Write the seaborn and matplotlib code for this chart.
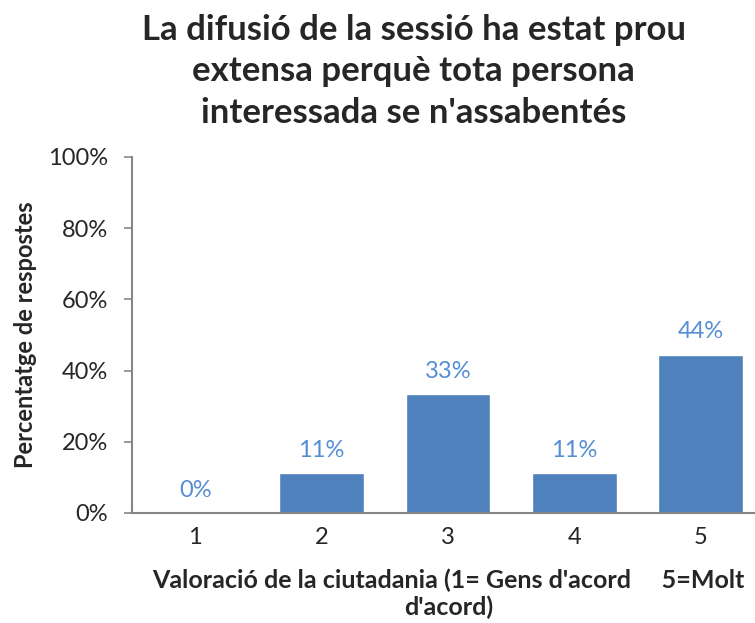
import matplotlib
matplotlib.use("Agg")
import matplotlib.pyplot as plt
import seaborn as sns
import pandas as pd

categories = ["1", "2", "3", "4", "5"]
values = [0.0, 11.1, 33.3, 11.1, 44.4]
labels = ["0%", "11%", "33%", "11%", "44%"]
yticks = [0, 20, 40, 60, 80, 100]

df = pd.DataFrame({"cat": categories, "val": values})

sns.set_style("white")
plt.rcParams["font.family"] = ["Lato", "DejaVu Sans"]

fig = plt.figure(figsize=(7.55, 6.23), dpi=100)
ax = fig.add_axes([0.1748, 0.1766, 1.0 - 0.1748, 0.5714])

sns.barplot(data=df, x="cat", y="val", color="#4F81BD", width=0.67,
            saturation=1, ax=ax)

for i, (v, t) in enumerate(zip(values, labels)):
    ax.text(i, v + 3.5, t, ha="center", va="bottom", fontsize=17,
            color="#558ED5")

ax.set_ylim(0, 100)
ax.set_xlim(-0.5, 4.43)
ax.set_yticks(yticks)
ax.set_yticklabels([f"{t}%" for t in yticks], fontsize=17)
ax.tick_params(axis="x", length=0, labelsize=17, pad=10)
ax.tick_params(axis="y", length=6, width=1.2, color="#868686", direction="out",
               left=True, pad=11)

for s in ["top", "right"]:
    ax.spines[s].set_visible(False)
for s in ["left", "bottom"]:
    ax.spines[s].set_color("#868686")
    ax.spines[s].set_linewidth(1.5)

ax.set_ylabel("Percentatge de respostes", fontsize=17, fontweight="bold", labelpad=8)
ax.set_xlabel("Valoració de la ciutadania (1= Gens d'acord     5=Molt\nd'acord)",
              fontsize=18, fontweight="bold", linespacing=1.2)
ax.xaxis.set_label_coords(0.508, -0.155, transform=ax.transAxes)
ax.xaxis.label.set_va("top")

fig.text(0.548, 0.978,
         "La difusió de la sessió ha estat prou\nextensa perquè tota persona\ninteressada se n'assabentés",
         ha="center", va="top", fontsize=25, fontweight="bold", linespacing=1.37)

fig.savefig("out.png", dpi=100)
